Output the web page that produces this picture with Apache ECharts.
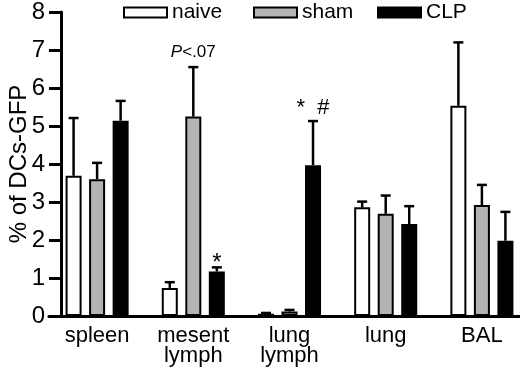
<!DOCTYPE html>
<html>
<head>
<meta charset="utf-8">
<script src="https://cdn.jsdelivr.net/npm/echarts@6/dist/echarts.min.js"></script>
<style>html,body{margin:0;padding:0;background:#fff}#c{width:520px;height:372px}</style>
</head>
<body>
<div id="c"></div>
<script>
// ---- data ----
const categories = ['spleen', 'mesent\nlymph', 'lung\nlymph', 'lung', 'BAL'];
const seriesNames = ['naive', 'sham', 'CLP'];
const naiveMean = [3.69, 0.74, 0.06, 2.86, 5.53];
const naiveErr  = [1.52, 0.15, 0.02, 0.15, 1.67];
const shamMean  = [3.60, 5.25, 0.12, 2.69, 2.92];
const shamErr   = [0.43, 1.30, 0.04, 0.48, 0.53];
const clpMean   = [5.14, 1.17, 3.97, 2.42, 1.98];
const clpErr    = [0.52, 0.11, 1.16, 0.47, 0.76];
const yTicks = [0, 1, 2, 3, 4, 5, 6, 7, 8];
// annotations: [seriesIndex, categoryIndex, text]
const annotations = [
  [1, 1, '{i|P}<.07'],
  [2, 1, '*'],
  [2, 2, '*  #']
];

// ---- styles ----
const FONT = 'Liberation Sans, Arial, sans-serif';
const fills = ['#ffffff', '#b3b3b3', '#000000'];
const BAR_W = 16;
const GAP = 0.47;
const means = [naiveMean, shamMean, clpMean];
const errs = [naiveErr, shamErr, clpErr];
const annStyle = {
  '1,1': {dy: -6, size: 17},
  '2,1': {dy: 8, size: 24},
  '2,2': {dy: -2, size: 22}
};
const legendLeft = [118, 248, 372];

const chart = echarts.init(document.getElementById('c'), null, {renderer: 'canvas'});

const series = [];
seriesNames.forEach((name, s) => {
  series.push({
    name: name,
    type: 'bar',
    data: means[s],
    barWidth: BAR_W,
    barGap: (GAP * 100) + '%',
    itemStyle: {color: fills[s], borderColor: '#000', borderWidth: 2},
    z: 2
  });
});
seriesNames.forEach((name, s) => {
  series.push({
    type: 'custom',
    name: name + '_err',
    data: means[s].map((m, i) => [i, m, m + errs[s][i]]),
    z: 3,
    silent: true,
    renderItem: function (params, api) {
      const i = api.value(0);
      const base = api.coord([i, api.value(1)]);
      const top = api.coord([i, api.value(2)]);
      const x = base[0] + (s - 1) * BAR_W * (1 + GAP);
      const children = [
        {type: 'line', shape: {x1: x, y1: base[1], x2: x, y2: top[1]}, style: {stroke: '#000', lineWidth: 2.5}},
        {type: 'line', shape: {x1: x - 5, y1: top[1], x2: x + 5, y2: top[1]}, style: {stroke: '#000', lineWidth: 2.5}}
      ];
      annotations.forEach(a => {
        if (a[0] === s && a[1] === i) {
          const st = annStyle[s + ',' + i];
          children.push({
            type: 'text',
            style: {
              text: a[2], x: x, y: top[1] + st.dy,
              align: 'center', verticalAlign: 'bottom',
              font: st.size + 'px ' + FONT, fill: '#000',
              rich: {i: {fontStyle: 'italic', fontSize: st.size, fontFamily: FONT}}
            }
          });
        }
      });
      return {type: 'group', children: children};
    }
  });
});

chart.setOption({
  animation: false,
  backgroundColor: '#fff',
  textStyle: {fontFamily: FONT, color: '#000'},
  legend: seriesNames.map((n, s) => ({
    data: [n],
    left: legendLeft[s], top: -3,
    icon: 'rect',
    itemWidth: 43, itemHeight: 10,
    textStyle: {fontSize: 21, color: '#000', fontFamily: FONT},
    selectedMode: false
  })),
  grid: {left: 49, width: 481, top: 12, bottom: 56, containLabel: false, outerBoundsMode: 'none'},
  xAxis: {
    type: 'category',
    data: categories,
    axisLine: {lineStyle: {color: '#000', width: 3}},
    axisTick: {show: false},
    axisLabel: {fontSize: 22, color: '#000', margin: 10, lineHeight: 20, fontFamily: FONT}
  },
  yAxis: {
    type: 'value',
    min: yTicks[0], max: yTicks[yTicks.length - 1], interval: 1,
    offset: -12,
    name: '% of DCs-GFP',
    nameLocation: 'middle',
    nameGap: 30,
    nameMoveOverlap: false,
    nameTextStyle: {fontSize: 24, color: '#000', fontFamily: FONT},
    splitLine: {show: false},
    axisLine: {show: true, lineStyle: {color: '#000', width: 3}},
    axisTick: {show: true, length: 12, lineStyle: {color: '#000', width: 3}},
    axisLabel: {fontSize: 24, color: '#000', margin: 16, fontFamily: FONT}
  },
  series: series
});
</script>
</body>
</html>
